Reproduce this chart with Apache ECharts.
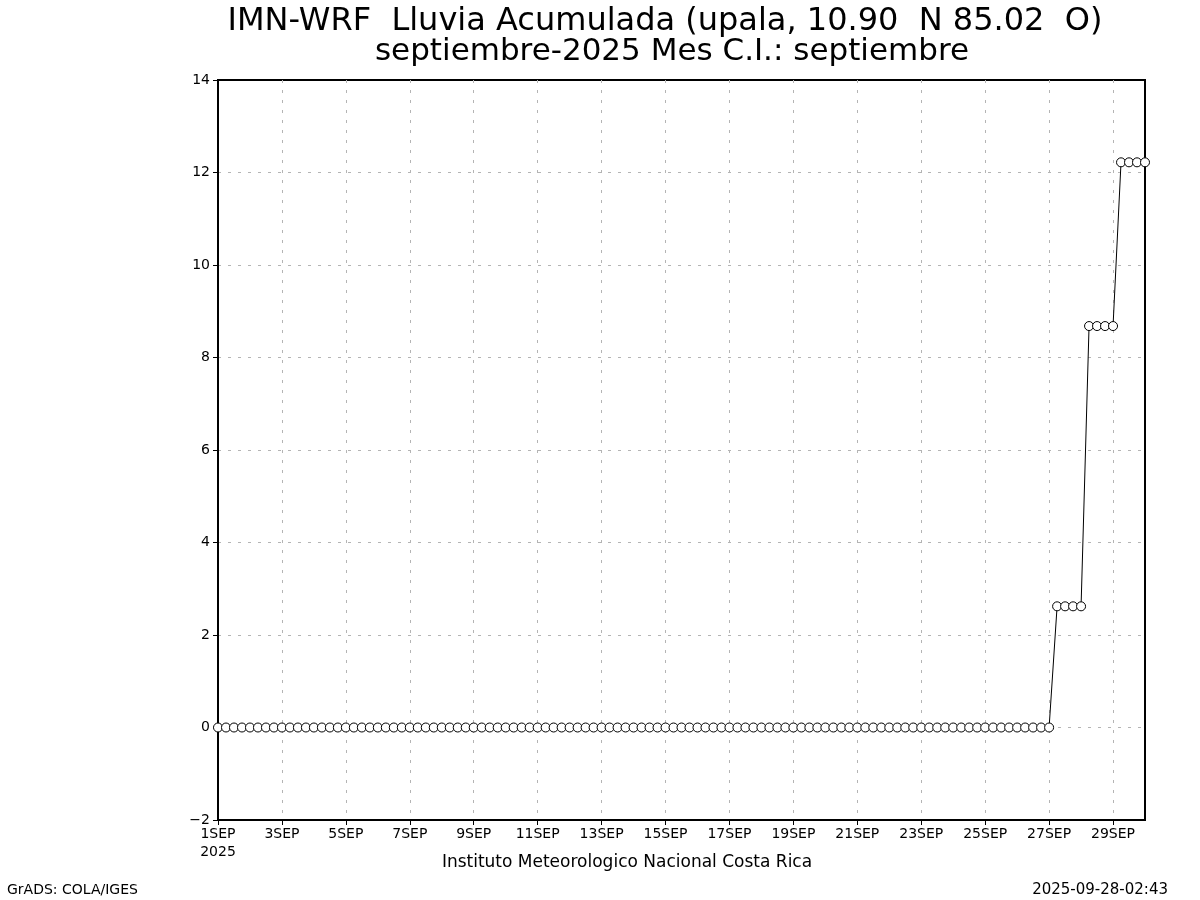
<!DOCTYPE html>
<html>
<head>
<meta charset="utf-8">
<script src="https://cdn.jsdelivr.net/npm/echarts@6/dist/echarts.min.js"></script>
<style>html,body{margin:0;padding:0;background:#fff;}#c{width:1200px;height:900px;}</style>
</head>
<body>
<div id="c"></div>
<script>
// Accumulated rain (mm), one value every 6 hours from 1SEP 00Z to 30SEP 00Z
const stepHours = 6;
const rainValues = [
  0,0,0,0, 0,0,0,0, 0,0,0,0, 0,0,0,0, 0,0,0,0, 0,0,0,0, 0,0,0,0, 0,0,0,0,
  0,0,0,0, 0,0,0,0, 0,0,0,0, 0,0,0,0, 0,0,0,0, 0,0,0,0, 0,0,0,0, 0,0,0,0,
  0,0,0,0, 0,0,0,0, 0,0,0,0, 0,0,0,0, 0,0,0,0, 0,0,0,0, 0,0,0,0, 0,0,0,0,
  0,0,0,0, 0,0,0,0,
  0,
  2.62,2.62,2.62,2.62,
  8.68,8.68,8.68,8.68,
  12.22,12.22,12.22,12.22
];
const titleLine1 = 'IMN-WRF  Lluvia Acumulada (upala, 10.90  N 85.02  O)';
const titleLine2 = 'septiembre-2025 Mes C.I.: septiembre';
const monthLabel = 'SEP';
const yearLabel = '2025';
const yTicks = [-2, 0, 2, 4, 6, 8, 10, 12, 14];
const footerCenter = 'Instituto Meteorologico Nacional Costa Rica';
const footerLeft = 'GrADS: COLA/IGES';
const footerRight = '2025-09-28-02:43';

const seriesData = rainValues.map((v, i) => [i * stepHours, v]);
const font = 'DejaVu Sans';

const chart = echarts.init(document.getElementById('c'), null, {renderer: 'canvas'});
chart.setOption({
  animation: false,
  backgroundColor: '#ffffff',
  graphic: [
    {type: 'text', x: 665, y: 22, style: {text: titleLine1, font: '32px "DejaVu Sans"', fill: '#000', align: 'center', verticalAlign: 'middle'}},
    {type: 'text', x: 672, y: 52, style: {text: titleLine2, font: '31px "DejaVu Sans"', fill: '#000', align: 'center', verticalAlign: 'middle'}},
    {type: 'text', x: 627, y: 863, style: {text: footerCenter, font: '17px "DejaVu Sans"', fill: '#000', align: 'center', verticalAlign: 'middle'}},
    {type: 'text', x: 7, y: 890, style: {text: footerLeft, font: '14px "DejaVu Sans"', fill: '#000', align: 'left', verticalAlign: 'middle'}},
    {type: 'text', x: 1168, y: 890, style: {text: footerRight, font: '15px "DejaVu Sans"', fill: '#000', align: 'right', verticalAlign: 'middle'}}
  ],
  grid: {left: 218, right: 55, top: 80, bottom: 80, show: true, borderColor: '#000', borderWidth: 2, containLabel: false},
  xAxis: {
    type: 'value', min: 0, max: 696, interval: 48,
    axisLine: {show: true, onZero: false, lineStyle: {color: '#000', width: 2}},
    axisTick: {show: true, inside: false, length: 5, lineStyle: {color: '#000'}},
    axisLabel: {
      margin: 5, color: '#000', fontFamily: font, fontSize: 14, lineHeight: 18,
      showMaxLabel: false,
      formatter: function (v) {
        const d = Math.round(v / 24) + 1;
        if (v === 0) return d + monthLabel + '\n' + yearLabel;
        return d + monthLabel;
      }
    },
    splitLine: {show: true, showMinLine: false, showMaxLine: false, lineStyle: {color: '#b4b4b4', type: [3, 7], width: 1}}
  },
  yAxis: {
    type: 'value', min: yTicks[0], max: yTicks[yTicks.length - 1], interval: 2,
    axisLine: {show: true, onZero: false, lineStyle: {color: '#000', width: 2}},
    axisTick: {show: true, inside: false, length: 5, lineStyle: {color: '#000'}},
    axisLabel: {
      margin: 8, color: '#000', fontFamily: font, fontSize: 14,
      formatter: function (v) { return v < 0 ? '\u2212' + Math.abs(v) : String(v); }
    },
    splitLine: {show: true, showMinLine: false, showMaxLine: false, lineStyle: {color: '#b4b4b4', type: [3, 7], width: 1}}
  },
  series: [{
    type: 'line',
    data: seriesData,
    symbol: 'circle',
    symbolSize: 9,
    showAllSymbol: true,
    clip: false,
    lineStyle: {color: '#000', width: 1},
    itemStyle: {color: '#fff', borderColor: '#000', borderWidth: 1},
    z: 5
  }]
});
</script>
</body>
</html>
